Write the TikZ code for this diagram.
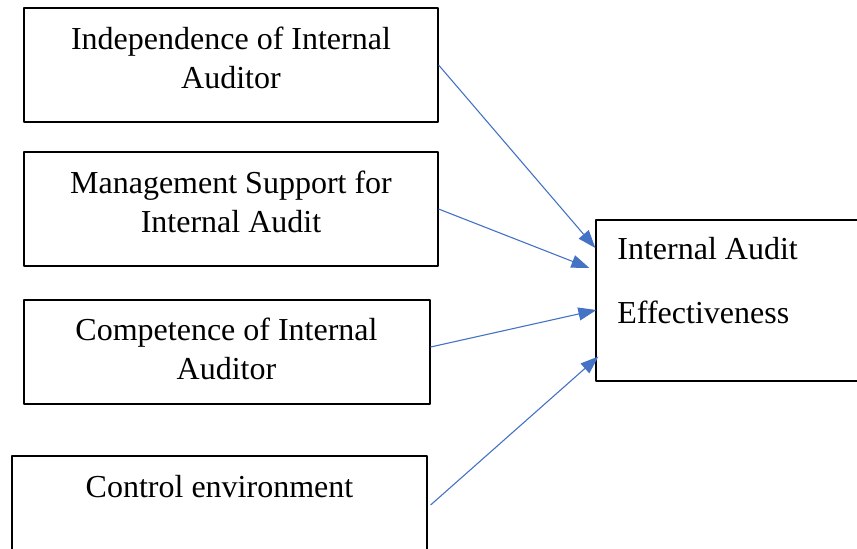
\documentclass[tikz,border=0pt]{standalone}
\usepackage{fontspec}
\setmainfont{Liberation Serif}
\usepackage{xcolor}
\usetikzlibrary{arrows.meta}
\definecolor{linkblue}{HTML}{4472C4}

\tikzset{
  factor/.style={draw, line width=0.6pt, inner sep=0pt},
  boxtext/.style={font=\fontsize{16}{19.5}\selectfont, align=center, anchor=north, inner sep=0pt},
  link/.style={draw=linkblue, line width=0.55pt, -{Triangle[length=9pt,width=6.5pt]}}
}

\begin{document}
\begin{tikzpicture}[x=0.5pt, y=-0.5pt, line join=round]
        \useasboundingbox (0,0) rectangle (857,548);
        \clip (0,0) rectangle (857,548);

        % Draw boxes
        \node[factor, minimum width=207pt, minimum height=57pt] (indep) at (231,65) {};
        \node[factor, minimum width=207pt, minimum height=57pt] (mgmt) at (231,209) {};
        \node[factor, minimum width=203pt, minimum height=52pt] (comp) at (227,352) {};
        \node[factor, minimum width=207.5pt, minimum height=49pt] (ctrl) at (219.5,505) {};
        \node[factor, minimum width=132pt, minimum height=80.5pt] (eff) at (728,300.5) {};

        % Box texts
        \node[boxtext] (indept) at (231,27) {Independence of Internal\\Auditor};
        \node[boxtext] (mgmtt) at (231,171) {Management Support for\\Internal Audit};
        \node[boxtext] (compt) at (226.5,318) {Competence of Internal\\Auditor};
        \node[boxtext] (ctrlt) at (219.5,475) {Control environment};
        \node[boxtext, anchor=north west, align=left, font=\fontsize{16}{32}\selectfont] (efft) at (617,237) {Internal Audit\\Effectiveness};

        % Connect boxes with arrows
        \draw[link] (indep.east) -- ([yshift=26.25pt]eff.west);
        \draw[link] (mgmt.east) -- ([xshift=-3pt,yshift=16.25pt]eff.west);
        \draw[link] ([yshift=2.5pt]comp.east) -- ([xshift=0.5pt,yshift=-4.75pt]eff.west);
        \draw[link] ([xshift=1.5pt]ctrl.east) -- ([xshift=1.5pt,yshift=-28pt]eff.west);
    \end{tikzpicture}
\end{document}
